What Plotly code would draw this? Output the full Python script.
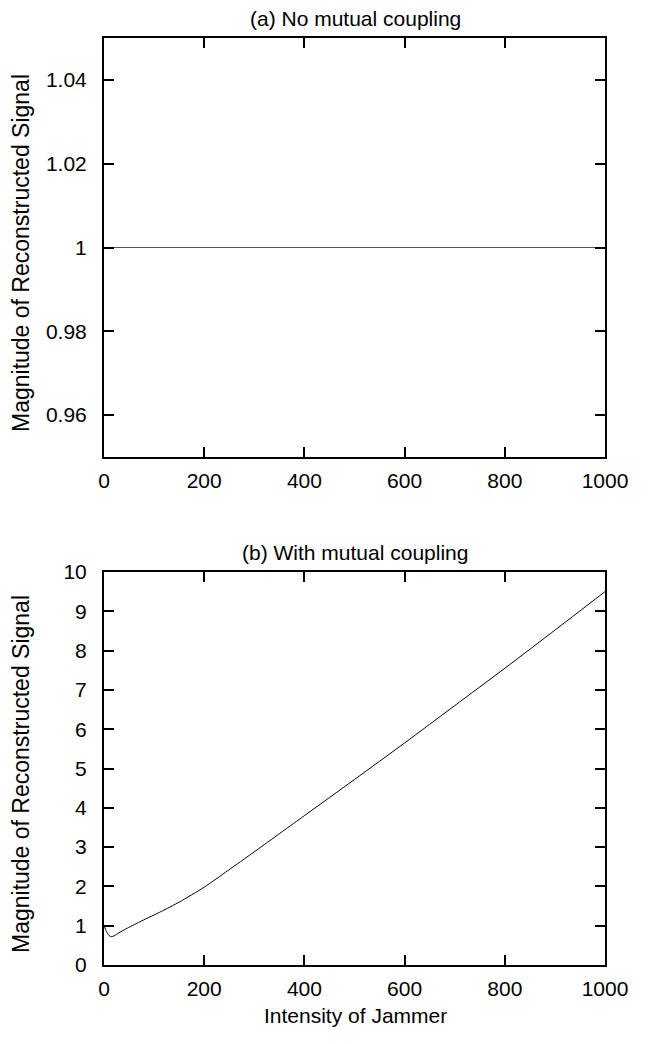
import plotly.graph_objects as go

# Data
x_a = [0, 1000]
y_a = [1.0, 1.0]

x_b = [0, 5, 10, 15, 20, 30, 47, 75, 114, 150, 200, 247, 300, 400, 500, 600, 700, 800, 900, 1000]
y_b = [1.0, 0.85, 0.75, 0.72, 0.74, 0.82, 0.94, 1.12, 1.36, 1.6, 1.98, 2.4, 2.88, 3.8, 4.72, 5.65, 6.6, 7.55, 8.52, 9.5]

x_ticks = [0, 200, 400, 600, 800, 1000]
ya_ticks = [0.96, 0.98, 1.0, 1.02, 1.04]
ya_labels = ["0.96", "0.98", "1", "1.02", "1.04"]
yb_ticks = list(range(0, 11))

title_a = "(a) No mutual coupling"
title_b = "(b) With mutual coupling"
ylabel = "Magnitude of Reconstructed Signal"
xlabel = "Intensity of Jammer"

FONT = "Liberation Sans, Arial, sans-serif"
TICK = 21
LAB = 21
YLAB = 23

fig = go.Figure()
fig.add_trace(go.Scatter(x=x_a, y=y_a, mode="lines", line=dict(color="#555555", width=1),
                         xaxis="x", yaxis="y", showlegend=False))
fig.add_trace(go.Scatter(x=x_b, y=y_b, mode="lines",
                         line=dict(color="black", width=1, shape="spline", smoothing=0.6),
                         xaxis="x2", yaxis="y2", showlegend=False))

axis_common = dict(showline=True, linecolor="black", linewidth=2, mirror="ticks",
                   ticks="inside", ticklen=10, tickwidth=1.5, tickcolor="black",
                   showgrid=False, zeroline=False,
                   tickfont=dict(family=FONT, size=TICK, color="black"))
xaxis_common = dict(axis_common, ticklabelstandoff=4)
yaxis_common = dict(axis_common, ticklabelstandoff=11)

H = 1044
BODY = 8  # default page margin
top_a, bot_a = 38, 457
top_b, bot_b = 572, 965
plot_h = bot_b - top_a


def dom(t, b):
    return [(bot_b - b) / plot_h, (bot_b - t) / plot_h]


def py(pix):
    return (bot_b - pix) / plot_h


plot_w = 605 - 104

fig.update_layout(
    width=650, height=H,
    margin=dict(l=104 - BODY, r=650 + BODY - 605, t=top_a - BODY, b=H + BODY - bot_b),
    paper_bgcolor="white", plot_bgcolor="white",
    font=dict(family=FONT, size=TICK, color="black"),
    xaxis=dict(xaxis_common, domain=[0, 1], range=[0, 1000], tickvals=x_ticks, anchor="y"),
    yaxis=dict(yaxis_common, domain=dom(top_a, bot_a), range=[0.95, 1.05], tickvals=ya_ticks,
               ticktext=ya_labels, anchor="x"),
    xaxis2=dict(xaxis_common, domain=[0, 1], range=[0, 1000], tickvals=x_ticks, anchor="y2"),
    yaxis2=dict(yaxis_common, domain=dom(top_b, bot_b), range=[0, 10], tickvals=yb_ticks, anchor="x2"),
)

common_ann = dict(xref="paper", yref="paper", showarrow=False, xanchor="center", yanchor="middle",
                  borderpad=0, font=dict(family=FONT, size=LAB, color="black"))
anns = [
    dict(common_ann, text=title_a, x=(355 - 104) / plot_w, y=py(19)),
    dict(common_ann, text=title_b, x=(355 - 104) / plot_w, y=py(552)),
    dict(common_ann, text=xlabel, x=(355 - 104) / plot_w, y=py(1016)),
    dict(common_ann, text=ylabel, x=(21 - 104) / plot_w, y=py(253), textangle=-90,
         font=dict(family=FONT, size=YLAB, color="black")),
    dict(common_ann, text=ylabel, x=(21 - 104) / plot_w, y=py(774), textangle=-90,
         font=dict(family=FONT, size=YLAB, color="black")),
]
fig.update_layout(annotations=anns)

fig.write_html("out.html")
